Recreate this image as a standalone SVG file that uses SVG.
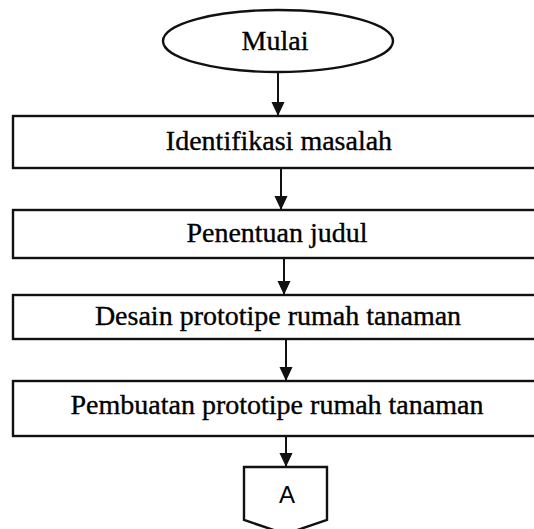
<svg xmlns="http://www.w3.org/2000/svg" width="534" height="529" viewBox="0 0 534 529">
<defs>
<style>
.shape{fill:#fff;stroke:#111;stroke-width:2.4}
.t{font-family:"Liberation Serif","Times New Roman",serif;font-size:28px;fill:#000;stroke:#000;stroke-width:0.35;text-anchor:middle}
.s{font-family:"Liberation Sans",Arial,sans-serif;font-size:24px;fill:#000;text-anchor:middle}
.c{stroke:#111;stroke-width:2;fill:none}
</style>
<marker id="ah" markerWidth="14" markerHeight="15" refX="15" refY="7" orient="auto" markerUnits="userSpaceOnUse" viewBox="0 0 15 14">
<path d="M0,0 L15,7 L0,14 Z" fill="#111"/>
</marker>
</defs>
<rect width="534" height="529" fill="#fff"/>
<g id="connectors">
<line class="c" x1="278" y1="72" x2="278" y2="116" marker-end="url(#ah)"/>
<line class="c" x1="281" y1="168" x2="281" y2="210" marker-end="url(#ah)"/>
<line class="c" x1="284" y1="258" x2="284" y2="295" marker-end="url(#ah)"/>
<line class="c" x1="286" y1="339" x2="286" y2="381" marker-end="url(#ah)"/>
<line class="c" x1="286" y1="436" x2="286" y2="467" marker-end="url(#ah)"/>
</g>
<g id="mulai">
<ellipse class="shape" cx="278" cy="41" rx="115" ry="31"/>
<text class="t" x="275" y="50">Mulai</text>
</g>
<g id="identifikasi">
<rect class="shape" x="13" y="116" width="540" height="52"/>
<text class="t" x="279" y="150">Identifikasi masalah</text>
</g>
<g id="penentuan">
<rect class="shape" x="13" y="210" width="540" height="48"/>
<text class="t" x="277" y="242">Penentuan judul</text>
</g>
<g id="desain">
<rect class="shape" x="13" y="295" width="540" height="44"/>
<text class="t" x="278" y="325">Desain prototipe rumah tanaman</text>
</g>
<g id="pembuatan">
<rect class="shape" x="13" y="381" width="540" height="55"/>
<text class="t" x="277" y="414">Pembuatan prototipe rumah tanaman</text>
</g>
<g id="connector-a">
<polygon class="shape" points="244,467 327,467 327,520 285.5,534 244,520"/>
<text class="s" x="287" y="503">A</text>
</g>
</svg>
